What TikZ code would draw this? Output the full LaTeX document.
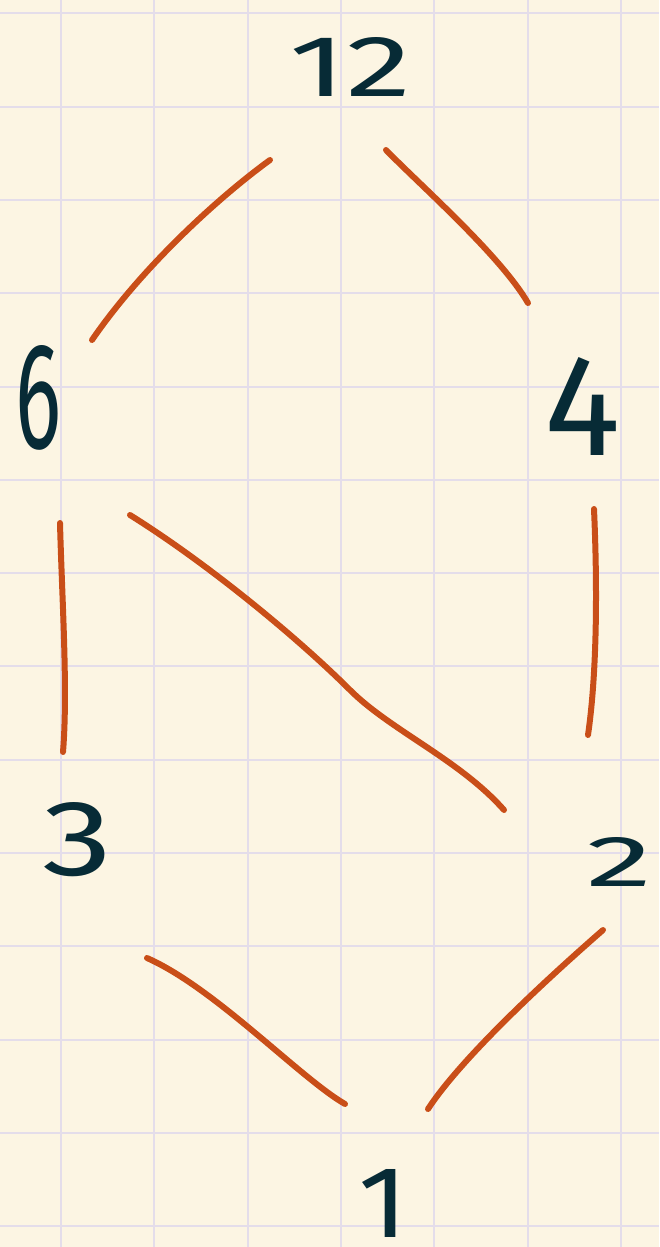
\documentclass[tikz,border=0pt]{standalone}
\usepackage{fontspec}
\setmainfont{Fira Sans}
\usepackage{graphicx}
\definecolor{paper}{HTML}{FCF5E3}
\definecolor{gridc}{HTML}{E4DDEA}
\definecolor{ink}{HTML}{072B36}
\definecolor{edgec}{HTML}{C94E18}
\newcommand\hwdigit[3]{\resizebox{#1pt}{#2pt}{#3}}
\tikzset{
  lbl/.style={inner sep=0pt, outer sep=0pt, text=ink, anchor=center},
  edge/.style={draw=edgec, line width=6pt, line cap=round},
  gridline/.style={draw=gridc, line width=2pt}
}
\begin{document}
\begin{tikzpicture}[x=1pt,y=-1pt]
\fill[paper] (0,0) rectangle (659,1247);
\useasboundingbox (0,0) rectangle (659,1247);
% grid
\foreach \k in {0,...,6} {\draw[gridline] ({61+93.3*\k},0) -- ({61+93.3*\k},1247);}
\foreach \k in {0,...,13} {\draw[gridline] (0,{13.3+93.3*\k}) -- (659,{13.3+93.3*\k});}
% labels
\node[lbl] (n12) at (351,67) {\hwdigit{122}{59}{12}};
\node[lbl] (n6) at (39,398) {\hwdigit{46}{103}{6}};
\node[lbl] (n4) at (583,406) {\hwdigit{76}{98}{4}};
\node[lbl] (n3) at (78,840) {\hwdigit{70}{73}{3}};
\node[lbl] (n2) at (620,862) {\hwdigit{66}{49}{2}};
\node[lbl] (n1) at (384,1203) {\hwdigit{50}{68}{1}};
% connectors
\draw[edge] ([shift={(-81,93)}]n12.center) .. controls (215,200) and (140,270) .. ([shift={(53,-58)}]n6.center);
\draw[edge] ([shift={(35,83)}]n12.center) .. controls (420,185) and (500,255) .. ([shift={(-55,-103)}]n4.center);
\draw[edge] ([shift={(21,125)}]n6.center) .. controls (62,600) and (68,690) .. ([shift={(-15,-88)}]n3.center);
\draw[edge] ([shift={(91,117)}]n6.center) .. controls (210,565) and (300,640) .. (350,690) .. controls (390,730) and (460,760) .. ([shift={(-116,-52)}]n2.center);
\draw[edge] ([shift={(11,103)}]n4.center) .. controls (598,600) and (596,680) .. ([shift={(-32,-127)}]n2.center);
\draw[edge] ([shift={(69,118)}]n3.center) .. controls (215,988) and (300,1078) .. ([shift={(-39,-99)}]n1.center);
\draw[edge] ([shift={(-17,68)}]n2.center) .. controls (540,985) and (460,1060) .. ([shift={(44,-94)}]n1.center);
\end{tikzpicture}
\end{document}
